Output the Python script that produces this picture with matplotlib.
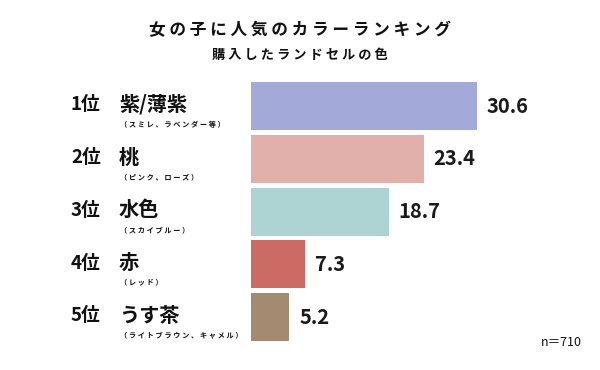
import matplotlib.pyplot as plt
from matplotlib.transforms import blended_transform_factory

plt.rcParams['font.family'] = ['Noto Sans CJK JP', 'DejaVu Sans']

# データ
ranks = ['1位', '2位', '3位', '4位', '5位']
names = ['紫/薄紫', '桃', '水色', '赤', 'うす茶']
notes = ['（スミレ、ラベンダー等）', '（ピンク、ローズ）', '（スカイブルー）', '（レッド）', '（ライトブラウン、キャメル）']
values = [30.6, 23.4, 18.7, 7.3, 5.2]
colors = ['#a3aad9', '#e2b0aa', '#aed3d3', '#cc6b63', '#a38a70']
title = '女の子に人気のカラーランキング'
subtitle = '購入したランドセルの色'


def spaced(s):
    # 字間を少し空ける
    return ' '.join(s)


fig = plt.figure(figsize=(6, 3.7), dpi=100)
ax = fig.add_axes([251 / 600, 26.6 / 370, 349 / 600, 263.75 / 370])

y = list(range(len(values)))
ax.barh(y, values, height=0.91, color=colors)
ax.set_xlim(0, 349 / 7.39)
ax.set_ylim(4.5, -0.5)
ax.axis('off')

for i, v in enumerate(values):
    ax.text(v + 1.3, i, f'{v}', va='center', ha='left', fontsize=14.5,
            fontweight='bold', color='#1a1a1a')

tr = blended_transform_factory(fig.transFigure, ax.transData)
for i in range(len(values)):
    ax.text(71 / 600, i - 0.02, ranks[i], transform=tr, va='center', ha='left',
            fontsize=13.5, fontweight='bold', color='#111111')
    ax.text(119 / 600, i - 0.03, names[i], transform=tr, va='center', ha='left',
            fontsize=14.5, fontweight='bold', color='#111111')
    ax.text(120 / 600, i + 0.34, spaced(notes[i]), transform=tr, va='center', ha='left',
            fontsize=5.2, fontweight='bold', color='#111111')

fig.text(0.5, 1 - 30.5 / 370, spaced(title), ha='center', va='center',
         fontsize=12, fontweight='bold', color='#111111')
fig.text(0.5, 1 - 54.5 / 370, spaced(subtitle), ha='center', va='center',
         fontsize=9.5, fontweight='bold', color='#111111')
fig.text(561 / 600, 1 - 343 / 370, 'n＝710', ha='center', va='center',
         fontsize=9, color='#111111')

fig.savefig('out.png', dpi=100)
